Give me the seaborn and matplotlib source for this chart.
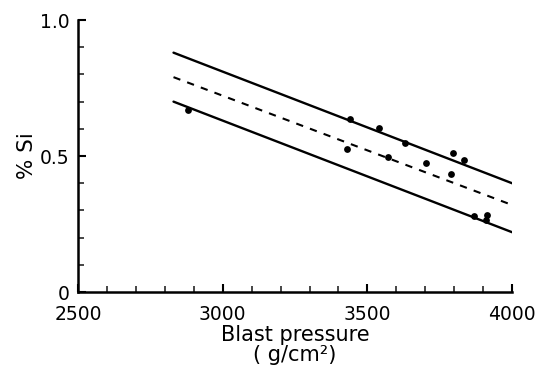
import matplotlib
matplotlib.use("Agg")
import matplotlib.pyplot as plt
from matplotlib.ticker import MultipleLocator
import numpy as np
import pandas as pd
import seaborn as sns

# Observed blast pressure (g/cm^2) and silicon content (%)
pressure = [2880, 3440, 3430, 3540, 3572, 3630, 3703, 3794, 3788, 3832, 3868, 3912, 3908]
si_pct = [0.669, 0.635, 0.526, 0.602, 0.498, 0.549, 0.475, 0.510, 0.434, 0.485, 0.280, 0.285, 0.265]

# Regression line (dashed) and upper / lower bounds (solid)
line_x = [2830, 4000]
upper_y = [0.880, 0.400]
fit_y = [0.790, 0.320]
lower_y = [0.700, 0.220]

sns.set_theme(style="ticks")
plt.rcParams["font.family"] = ["DejaVu Sans"]

fig = plt.figure(figsize=(5.36, 3.74), dpi=100)
ax = fig.add_axes([0.1455, 0.219, 0.81, 0.7275])

pts = pd.DataFrame({"pressure": pressure, "si": si_pct})
lines = pd.DataFrame({
    "x": line_x * 3,
    "y": upper_y + fit_y + lower_y,
    "band": ["upper"] * 2 + ["fit"] * 2 + ["lower"] * 2,
})

for name in ["upper", "lower"]:
    sns.lineplot(data=lines[lines.band == name], x="x", y="y", color="black",
                 linewidth=1.7, ax=ax)
sns.lineplot(data=lines[lines.band == "fit"], x="x", y="y", color="black",
             linewidth=1.5, ax=ax).lines[-1].set_dashes([3.5, 3.5])
sns.scatterplot(data=pts, x="pressure", y="si", color="black", s=24,
                edgecolor="black", linewidth=0, ax=ax, zorder=3)

ax.set_xlim(2500, 4000)
ax.set_ylim(0, 1.0)
ax.set_xticks([2500, 3000, 3500, 4000])
ax.set_yticks([0, 0.5, 1.0])
ax.set_yticklabels(["0", "0.5", "1.0"])
ax.xaxis.set_minor_locator(MultipleLocator(100))
ax.yaxis.set_minor_locator(MultipleLocator(0.1))
ax.tick_params(axis="both", which="major", direction="in", length=6, width=1.5,
               labelsize=13.5, colors="black", pad=6)
ax.tick_params(axis="both", which="minor", direction="in", length=4, width=1.2)
ax.tick_params(axis="x", which="major", pad=9)

for side in ["top", "right"]:
    ax.spines[side].set_visible(False)
for side in ["left", "bottom"]:
    ax.spines[side].set_linewidth(1.8)
    ax.spines[side].set_color("black")

ax.set_xlabel("Blast pressure\n( g/cm\u00b2)", fontsize=15, linespacing=1.0,
              labelpad=1, color="black")
ax.set_ylabel("% Si", fontsize=15.5, labelpad=2, color="black")

fig.savefig("out.png", dpi=100, facecolor="white")
